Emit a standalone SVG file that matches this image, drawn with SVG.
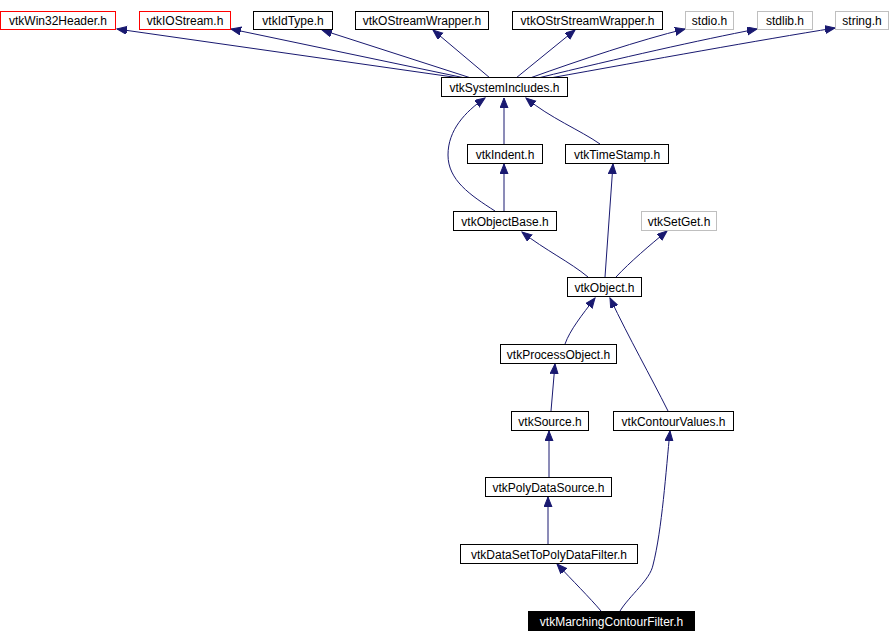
<svg xmlns="http://www.w3.org/2000/svg" width="890" height="642" viewBox="0 0 890 642">
<style>
.n rect{fill:#fff;stroke:#000;stroke-width:1}
.n.red rect{stroke:#ff0000}
.n.gray rect{stroke:#bfbfbf}
.n text{font-family:"Liberation Sans",Arial,sans-serif;font-size:12px;fill:#000;text-anchor:middle}
.n.cur rect{fill:#000;stroke:#000}
.n.cur text{fill:#fff}
#edges path{fill:none;stroke:#191970;stroke-width:1;marker-end:url(#arr)}
</style>
<defs>
<marker id="arr" markerUnits="userSpaceOnUse" markerWidth="11" markerHeight="9" refX="10" refY="4" orient="auto">
<path d="M0,0 L10,4 L0,8 z" fill="#191970" stroke="#191970" stroke-width="1"/>
</marker>
</defs>
<rect width="890" height="642" fill="#fff"/>
<g id="edges">
<path d="M460,78 L117,29"/>
<path d="M465,78 L231,29"/>
<path d="M471,78 L322,30"/>
<path d="M490,78 L433,30"/>
<path d="M516,78 L575,30"/>
<path d="M530,78 C580,60 640,40 685,29"/>
<path d="M538,78 C620,58 700,40 757,29"/>
<path d="M550,78 C650,60 760,40 835,28"/>
<path d="M504,144 L504,98"/>
<path d="M600,144 C580,130 550,118 526,98"/>
<path d="M495,211 C470,195 448,180 448,155 C448,130 465,112 485,98"/>
<path d="M504,211 L504,164"/>
<path d="M588,277 C570,262 545,250 522,232"/>
<path d="M605,277 L613,164"/>
<path d="M616,277 C630,262 650,245 667,231"/>
<path d="M565,344 C570,330 582,315 595,298"/>
<path d="M668,411 C650,375 630,340 610,298"/>
<path d="M551,411 L555,364"/>
<path d="M549,477 L549,431"/>
<path d="M548,544 L548,497"/>
<path d="M601,611 C590,598 572,580 557,564"/>
<path d="M620,611 C630,595 650,580 653,565 C662,530 666,470 670,431"/>
</g>
<g id="vtkWin32Header" class="n red"><rect x="0.5" y="11.5" width="115" height="18"/><text x="58" y="25">vtkWin32Header.h</text></g>
<g id="vtkIOStream" class="n red"><rect x="139.5" y="11.5" width="91" height="18"/><text x="185" y="25">vtkIOStream.h</text></g>
<g id="vtkIdType" class="n"><rect x="253.5" y="11.5" width="79" height="18"/><text x="293" y="25">vtkIdType.h</text></g>
<g id="vtkOStreamWrapper" class="n"><rect x="355.5" y="11.5" width="133" height="18"/><text x="422" y="25">vtkOStreamWrapper.h</text></g>
<g id="vtkOStrStreamWrapper" class="n"><rect x="512.5" y="11.5" width="150" height="18"/><text x="587.5" y="25">vtkOStrStreamWrapper.h</text></g>
<g id="stdio" class="n gray"><rect x="685.5" y="11.5" width="48" height="18"/><text x="709.5" y="25">stdio.h</text></g>
<g id="stdlib" class="n gray"><rect x="757.5" y="11.5" width="55" height="18"/><text x="785" y="25">stdlib.h</text></g>
<g id="string" class="n gray"><rect x="835.5" y="11.5" width="53" height="18"/><text x="862" y="25">string.h</text></g>
<g id="vtkSystemIncludes" class="n"><rect x="441.5" y="77.5" width="126" height="19"/><text x="504.5" y="92">vtkSystemIncludes.h</text></g>
<g id="vtkIndent" class="n"><rect x="467.5" y="144.5" width="75" height="19"/><text x="505" y="159">vtkIndent.h</text></g>
<g id="vtkTimeStamp" class="n"><rect x="565.5" y="144.5" width="103" height="19"/><text x="617" y="159">vtkTimeStamp.h</text></g>
<g id="vtkObjectBase" class="n"><rect x="453.5" y="211.5" width="103" height="19"/><text x="505" y="226">vtkObjectBase.h</text></g>
<g id="vtkSetGet" class="n gray"><rect x="641.5" y="211.5" width="75" height="19"/><text x="679" y="226">vtkSetGet.h</text></g>
<g id="vtkObject" class="n"><rect x="567.5" y="277.5" width="74" height="19"/><text x="604.5" y="292">vtkObject.h</text></g>
<g id="vtkProcessObject" class="n"><rect x="500.5" y="344.5" width="116" height="19"/><text x="558.5" y="359">vtkProcessObject.h</text></g>
<g id="vtkSource" class="n"><rect x="511.5" y="411.5" width="77" height="19"/><text x="550" y="426">vtkSource.h</text></g>
<g id="vtkContourValues" class="n"><rect x="613.5" y="411.5" width="120" height="19"/><text x="673.5" y="426">vtkContourValues.h</text></g>
<g id="vtkPolyDataSource" class="n"><rect x="485.5" y="477.5" width="126" height="19"/><text x="548.5" y="492">vtkPolyDataSource.h</text></g>
<g id="vtkDataSetToPolyDataFilter" class="n"><rect x="460.5" y="544.5" width="177" height="19"/><text x="549" y="559">vtkDataSetToPolyDataFilter.h</text></g>
<g id="vtkMarchingContourFilter" class="n cur"><rect x="528.5" y="611.5" width="166" height="19"/><text x="611.5" y="626">vtkMarchingContourFilter.h</text></g>
</svg>
